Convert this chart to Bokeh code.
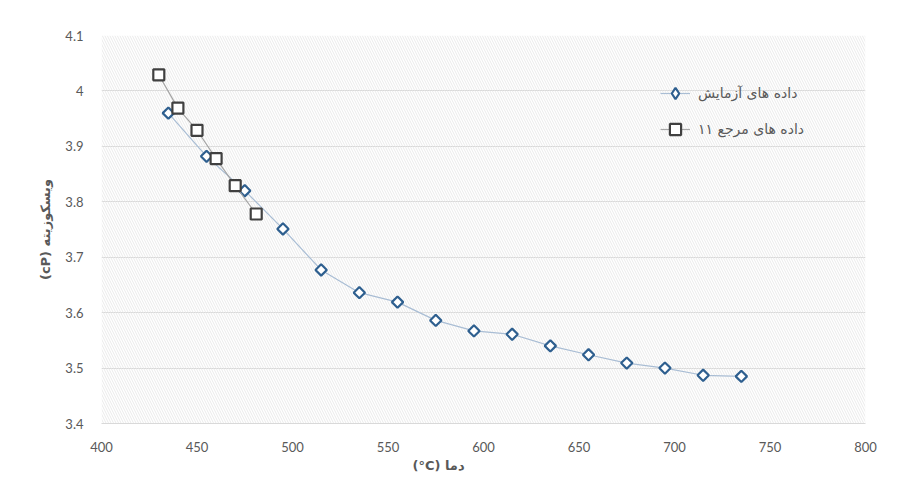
import math
from bokeh.plotting import figure
from bokeh.models import (BoxAnnotation, FixedTicker, CustomJSTickFormatter, Legend,
                          LegendItem, Title, Range1d)
from bokeh.embed import file_html
from bokeh.resources import INLINE

# ---- data ----
exp_temp = [435, 455, 475, 495, 515, 535, 555, 575, 595, 615, 635, 655, 675, 695, 715, 735]
exp_visc = [3.960, 3.882, 3.820, 3.751, 3.677, 3.636, 3.619, 3.586, 3.567, 3.561, 3.540, 3.524, 3.509, 3.500, 3.487, 3.485]
ref_temp = [430, 440, 450, 460, 470, 481]
ref_visc = [4.029, 3.969, 3.929, 3.878, 3.829, 3.778]
x_ticks = [400, 450, 500, 550, 600, 650, 700, 750, 800]
y_ticks = [3.4, 3.5, 3.6, 3.7, 3.8, 3.9, 4.0, 4.1]
exp_label = "داده های آزمایش"
ref_label = "داده های مرجع ۱۱"
x_title = "(°C) دما"
y_title = "(cP) ویسکوزیته"

TICK_COLOR = "#595959"
NUM_FONT = "Lato"
AR_FONT = "DejaVu Sans"

p = figure(width=912, height=473, output_backend="svg", toolbar_location=None,
           x_range=Range1d(400, 800), y_range=Range1d(3.4, 4.1),
           min_border_left=101, min_border_right=47, min_border_top=35, min_border_bottom=40)
p.outline_line_color = None
p.background_fill_color = "white"
p.border_fill_color = "white"

# hatched plot area
p.add_layout(BoxAnnotation(fill_alpha=0, line_alpha=0, hatch_pattern="\\",
                           hatch_color="#e4e4e4", hatch_weight=0.8, hatch_scale=5,
                           level="underlay"))

# axes
p.xaxis.ticker = FixedTicker(ticks=x_ticks)
p.yaxis.ticker = FixedTicker(ticks=y_ticks)
p.yaxis.formatter = CustomJSTickFormatter(code="return tick.toFixed(1).replace(/\\.0$/, '');")
for ax in (p.xaxis[0], p.yaxis[0]):
    ax.major_tick_line_color = None
    ax.minor_tick_line_color = None
    ax.major_label_text_color = TICK_COLOR
    ax.major_label_text_font = NUM_FONT
    ax.major_label_text_font_size = "13px"
    ax.major_label_standoff = 12
p.yaxis.axis_line_color = None
p.xaxis.axis_line_color = "#d9d9d9"
p.yaxis.axis_label = y_title
p.yaxis.axis_label_text_font = AR_FONT
p.yaxis.axis_label_text_font_style = "bold"
p.yaxis.axis_label_text_font_size = "13px"
p.yaxis.axis_label_text_color = TICK_COLOR
p.yaxis.axis_label_standoff = 9

p.xgrid.grid_line_color = None
p.ygrid.grid_line_color = "#d9d9d9"
p.ygrid.grid_line_width = 1

# x title, placed below the axis and shifted left of centre as in the reference
p.add_layout(Title(text=x_title, align="left", offset=311, text_font=AR_FONT,
                   text_font_style="bold", text_font_size="13px",
                   text_color=TICK_COLOR, standoff=2), "below")

# series
l1 = p.line(exp_temp, exp_visc, line_color="#a9bdd4", line_width=1.2)
s1 = p.scatter(exp_temp, exp_visc, marker="square", angle=math.pi / 4, size=8,
               fill_color="white", line_color="#2e5f8f", line_width=2.2)
l2 = p.line(ref_temp, ref_visc, line_color="#a6a6a6", line_width=1.2)
s2 = p.scatter(ref_temp, ref_visc, marker="square", size=11,
               fill_color="white", line_color="#404040", line_width=2.2)

# legend-only diamond (legend glyphs are drawn unrotated); its point is not drawn
d1 = p.scatter([float("nan")], [float("nan")], marker="diamond", fill_color="white",
               line_color="#2e5f8f", line_width=2.2)

legend = Legend(items=[LegendItem(label=exp_label, renderers=[l1, d1]),
                       LegendItem(label=ref_label, renderers=[l2, s2])],
                location=(559, 280), glyph_width=30, glyph_height=28, spacing=8,
                padding=0, margin=0, label_standoff=8,
                label_text_font=AR_FONT, label_text_font_size="14px",
                label_text_color=TICK_COLOR, border_line_color=None,
                background_fill_alpha=0)
p.add_layout(legend)

open("out.html", "w").write(file_html(p, INLINE))
